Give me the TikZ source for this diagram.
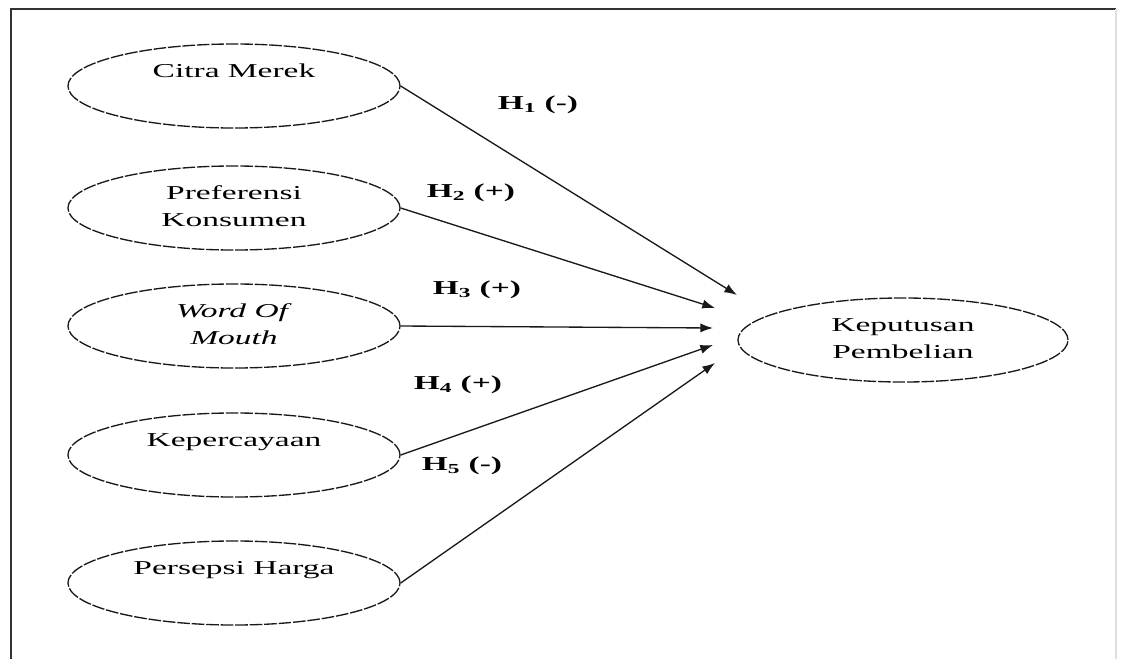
\documentclass[tikz,border=0pt]{standalone}
\usepackage{fontspec}
\setmainfont{Liberation Serif}[FakeStretch=1.7]
\usetikzlibrary{shapes.geometric, arrows.meta, positioning}

\begin{document}
\begin{tikzpicture}[
    x=0.025cm, y=-0.025cm,
    every node/.style={font=\fontsize{14}{19}\selectfont},
    var/.style={ellipse, draw=black!90, line width=0.95pt, dash pattern=on 9pt off 1.3pt, minimum width=8.3cm, minimum height=2.1cm, inner sep=0pt, align=center},
    hyp/.style={-{Latex[length=9pt, width=6.5pt]}, line width=0.95pt, draw=black!90},
    lbl/.style={font=\fontsize{14}{19}\selectfont\bfseries}
]
\useasboundingbox (0,0) rectangle (1121,659);
\draw[line width=1.3pt, draw=black!80] (11,659) -- (11,9) -- (1116,9);
\draw[line width=0.8pt, draw=black!12] (1116,9) -- (1116,659);
% Left: the five independent variables
\foreach \nm/\y/\txt in {cm/86/{\strut Citra Merek\\\strut}, pk/208/{\strut Preferensi\\\strut Konsumen}, wom/326/{\strut\textit{Word Of}\\\strut\textit{Mouth}}, kpc/455/{\strut Kepercayaan\\\strut}, ph/583/{\strut Persepsi Harga\\\strut}}{
    \node[var] (\nm) at (234,\y) {\txt};
}
% Right: the dependent variable
\node[var, minimum width=8.25cm] (kb) at (903,340) {\strut Keputusan\\\strut Pembelian};
\foreach \i/\x/\y in {1/737/295, 2/715/308, 3/713/328, 4/713/345, 5/715/363}
    \coordinate (t\i) at (\x,\y);
\foreach \src/\i in {cm/1, pk/2, wom/3, kpc/4, ph/5}
    \draw[hyp] (\src.east) -- (t\i);
% Hypotheses
\foreach \i/\x/\y/\sg in {1/538/105/-, 2/471/193/+, 3/477/290/+, 4/458/385/+, 5/462/466/-}
    \node[lbl] (h\i) at (\x,\y) {H\textsubscript{\i} (\sg)};
\end{tikzpicture}
\end{document}
